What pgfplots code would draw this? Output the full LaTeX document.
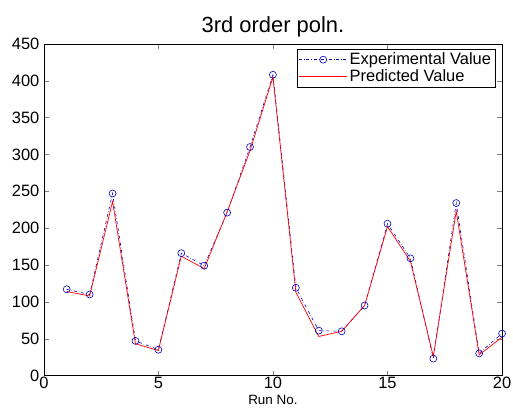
\documentclass[border=0pt]{standalone}
\usepackage{fontspec}
\setmainfont{Liberation Sans}
\usepackage{pgfplots}
\pgfplotsset{compat=1.18}
\begin{document}
\begin{tikzpicture}
\begin{axis}[
  name=ax,
  scale only axis,
  width=460pt, height=333pt,
  xmin=0, xmax=20, ymin=0, ymax=450,
  xtick={0,5,10,15,20},
  ytick={0,50,100,150,200,250,300,350,400,450},
  tick align=inside,
  tick pos=both,
  major tick length=5pt,
  /pgf/number format/assume math mode=true,
  tick label style={font=\fontsize{16.5}{18}\selectfont},
  yticklabel style={xshift=-1pt},
  xticklabel style={yshift=2pt},
  title={3rd order poln.},
  title style={font=\fontsize{22}{25}\selectfont, yshift=-3pt},
  xlabel={Run No.},
  xlabel style={font=\fontsize{13.5}{15}\selectfont, yshift=0pt},
  legend style={at={(0.985,0.985)}, anchor=north east, draw=black, font=\fontsize{16.5}{18}\selectfont, row sep=-1pt, inner sep=2pt},
  legend cell align=left,
  axis line style={black},
]
\addplot[blue!75!black, dash dot, line width=0.6pt, mark=o, mark size=3.5pt, mark options={solid},
  legend image code/.code={\draw[mark repeat=2,mark phase=2] plot coordinates {(0cm,0cm) (0.85cm,0cm) (1.7cm,0cm)};}] coordinates {
(1,117) (2,110) (3,247) (4,47) (5,35) (6,166) (7,149) (8,221) (9,310) (10,408)
(11,119) (12,61) (13,60) (14,95) (15,206) (16,159) (17,23) (18,234) (19,30) (20,57)
};
\addlegendentry{Experimental Value}
\addplot[red, line width=0.7pt,
  legend image code/.code={\draw[red, line width=0.8pt] (0cm,0cm) -- (1.7cm,0cm);}] coordinates {
(1,114) (2,108) (3,236) (4,43) (5,34) (6,162) (7,145) (8,222) (9,305) (10,405)
(11,113) (12,53) (13,60) (14,95) (15,202) (16,155) (17,26) (18,223) (19,28) (20,52)
};
\addlegendentry{Predicted Value}
\end{axis}
\pgfresetboundingbox
\path ([xshift=-44pt,yshift=-40pt]ax.south west) rectangle ([xshift=11pt,yshift=44pt]ax.north east);
\end{tikzpicture}
\end{document}
